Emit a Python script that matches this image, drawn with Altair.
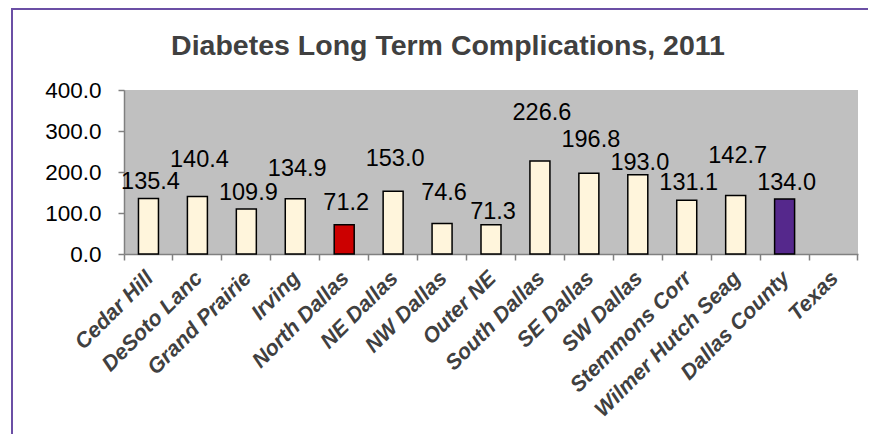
import altair as alt
import pandas as pd

categories = ["Cedar Hill", "DeSoto Lanc", "Grand Prairie", "Irving", "North Dallas",
              "NE Dallas", "NW Dallas", "Outer NE", "South Dallas", "SE Dallas",
              "SW Dallas", "Stemmons Corr", "Wilmer Hutch Seag", "Dallas County", "Texas"]
values = [135.4, 140.4, 109.9, 134.9, 71.2, 153.0, 74.6, 71.3, 226.6, 196.8,
          193.0, 131.1, 142.7, 134.0, None]
# label heights (data units) as staggered in the reference
label_y = [176, 229, 149, 207, 124, 232, 149, 102, 344, 278, 222, 173, 239, 173, None]
groups = ["area"] * 4 + ["north"] + ["area"] * 8 + ["county", "state"]
title_text = "Diabetes Long Term Complications, 2011"

df = pd.DataFrame({"cat": categories, "val": values, "ly": label_y, "grp": groups})
df["lbl"] = [f"{v:.1f}" if v is not None and v == v else "" for v in values]

W, H = 734, 164
PL, PT = 116, 82

xenc = alt.X("cat:N", sort=categories, title=None,
             scale=alt.Scale(paddingInner=0, paddingOuter=0, align=0.5),
             axis=alt.Axis(bandPosition=1, tickExtra=True, labelOffset=-6,
                           labelAngle=-45, labelAlign="right", labelBaseline="top",
                           labelFont="Liberation Sans", labelFontSize=21.5,
                           labelFontWeight="bold", labelFontStyle="italic",
                           labelColor="#404040", labelPadding=7, labelLimit=400,
                           labelOverlap=False,
                           domainColor="#808080", domainWidth=1.5,
                           tickColor="#808080", tickWidth=1.5, tickSize=6,
                           grid=False))

bars = alt.Chart(df).mark_bar(stroke="black", strokeWidth=1.5, width=20).encode(
    x=xenc,
    y=alt.Y("val:Q", title=None,
            scale=alt.Scale(domain=[0, 400], nice=False),
            axis=alt.Axis(values=[0, 100, 200, 300, 400], format=".1f",
                          labelFont="Liberation Sans", labelFontSize=22.5,
                          labelColor="black", labelPadding=17,
                          domainColor="#808080", domainWidth=1.5,
                          tickColor="#808080", tickWidth=1.5, tickSize=6,
                          grid=False)),
    color=alt.Color("grp:N", legend=None,
                    scale=alt.Scale(domain=["area", "north", "county", "state"],
                                    range=["#FFF5DC", "#CC0000", "#55288C", "#FFF5DC"])),
)

labels = alt.Chart(df).mark_text(font="Liberation Sans", fontSize=23.5, color="black",
                                 baseline="middle", align="center", dx=2).encode(
    x=alt.X("cat:N", sort=categories),
    y=alt.Y("ly:Q"),
    text="lbl:N",
)

title = alt.Chart(pd.DataFrame({"t": [title_text]})).mark_text(
    font="Liberation Sans", fontSize=28.5, fontWeight="bold", color="#404040",
    align="center", baseline="alphabetic").encode(
    x=alt.value(324), y=alt.value(-35), text="t:N")

border_top = alt.Chart(df).mark_rule(color="#6B4FA5", strokeWidth=2).encode(
    x=alt.value(-113), x2=alt.value(W + 40), y=alt.value(-81))
border_left = alt.Chart(df).mark_rule(color="#6B4FA5", strokeWidth=2).encode(
    x=alt.value(-112), y=alt.value(-82), y2=alt.value(H + 200))

chart = alt.layer(bars, labels, title, border_top, border_left).properties(
    width=W, height=H,
    autosize=alt.AutoSizeParams(type="none"),
    padding={"left": PL, "top": PT, "right": 10, "bottom": 180},
    background="white",
).configure_view(fill="#C0C0C0", strokeWidth=0)

chart.save("out.html", embed_options={"renderer": "svg", "actions": False})
